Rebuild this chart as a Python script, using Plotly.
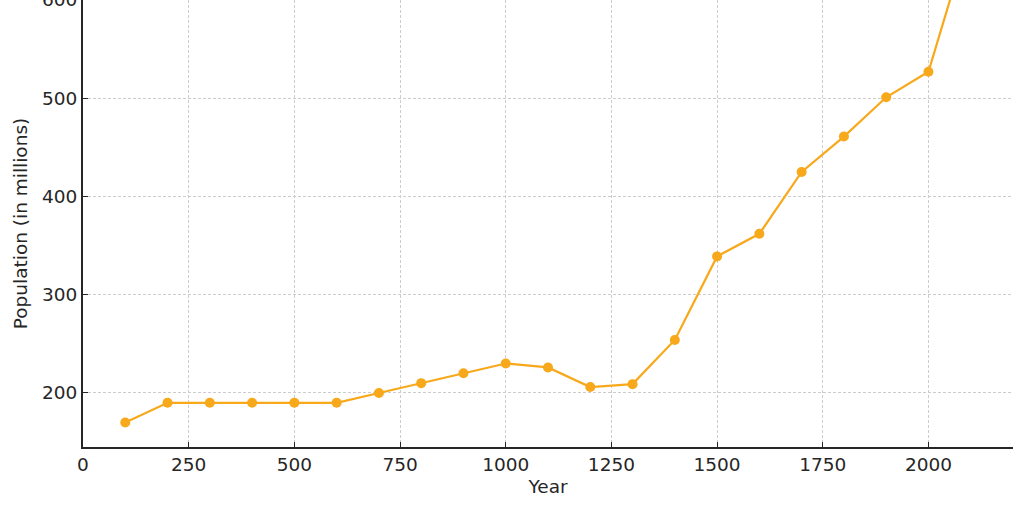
import plotly.graph_objects as go

years = [100, 200, 300, 400, 500, 600, 700, 800, 900, 1000, 1100, 1200, 1300,
         1400, 1500, 1600, 1700, 1800, 1900, 2000, 2100]
population = [170, 190, 190, 190, 190, 190, 200, 210, 220, 230, 226, 206, 209,
              254, 339, 362, 425, 461, 501, 527, 670]

x_ticks = [0, 250, 500, 750, 1000, 1250, 1500, 1750, 2000]
y_ticks = [200, 300, 400, 500, 600]

color = "#F7A81B"
axis_color = "#262626"
tick_font = dict(family="DejaVu Sans", size=18.5, color="#262626")
title_font = dict(family="DejaVu Sans", size=18.5, color="#262626")

fig = go.Figure()
fig.add_trace(go.Scatter(
    x=years, y=population, mode="lines+markers",
    line=dict(color=color, width=2.2),
    marker=dict(color=color, size=10),
    cliponaxis=True, showlegend=False,
))

fig.update_layout(
    width=1024, height=512,
    margin=dict(l=83, r=11, t=0, b=65, autoexpand=False),
    paper_bgcolor="white", plot_bgcolor="white",
    font=tick_font,
)
fig.update_xaxes(
    range=[0, 2200], tickvals=x_ticks, ticktext=[str(v) for v in x_ticks],
    showline=True, linecolor=axis_color, linewidth=1.8,
    ticks="inside", ticklen=5, tickcolor=axis_color, tickwidth=1,
    showgrid=True, gridcolor="#cccccc", gridwidth=1, griddash="3px,2px",
    zeroline=False, automargin=False,
    title=dict(text="Year", standoff=6, font=title_font), tickfont=tick_font,
)
fig.update_yaxes(
    range=[145, 600], tickvals=y_ticks, ticktext=[str(v) for v in y_ticks],
    showline=True, linecolor=axis_color, linewidth=1.8,
    ticks="inside", ticklen=5, tickcolor=axis_color, tickwidth=1,
    showgrid=True, gridcolor="#cccccc", gridwidth=1, griddash="3px,2px",
    zeroline=False, automargin=False, ticklabeloverflow="allow",
    title=dict(text="Population (in millions)", standoff=10, font=title_font),
    tickfont=tick_font,
)

fig.write_html(
    "out.html",
    config={"displayModeBar": False},
    post_script="document.body.style.margin='0px';document.body.style.overflow='hidden';",
)
